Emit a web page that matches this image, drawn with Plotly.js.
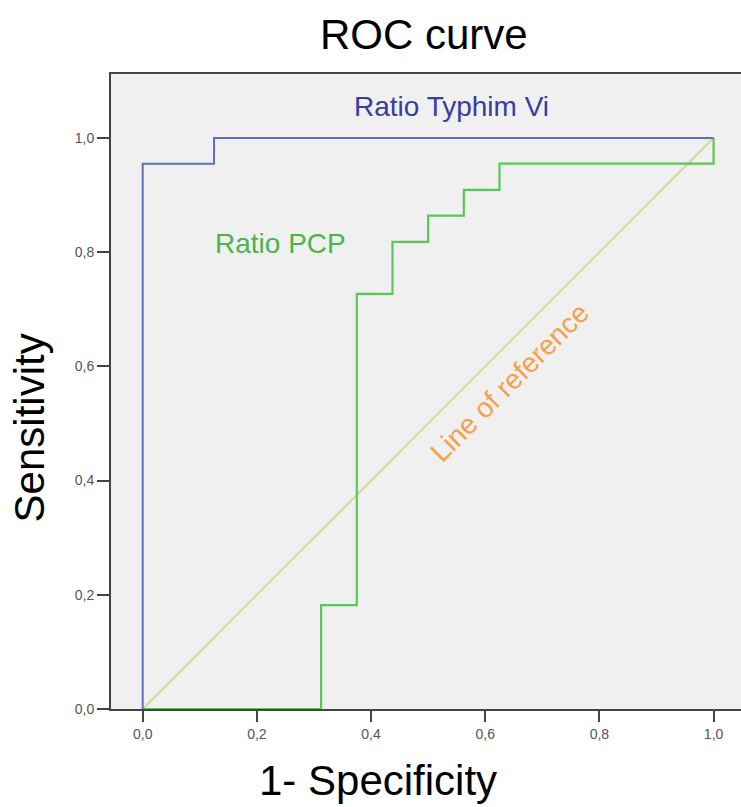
<!DOCTYPE html>
<html>
<head>
<meta charset="utf-8">
<script src="https://cdn.plot.ly/plotly-3.0.1.min.js"></script>
<style>html,body{margin:0;padding:0;background:#fff;}</style>
</head>
<body>
<div id="chart" style="width:741px;height:807px;"></div>
<script>
// 1 - Specificity (false positive rate) and Sensitivity for each curve
const typhimFPR = [0, 0, 0.125, 1];
const typhimTPR = [0, 0.955, 1, 1];
const pcpFPR = [0, 0.3125, 0.375, 0.4375, 0.5, 0.5625, 0.625, 1];
const pcpTPR = [0, 0.182, 0.727, 0.818, 0.864, 0.909, 0.955, 1];
const refX = [0, 1];
const refY = [0, 1];
const tickVals = [0, 0.2, 0.4, 0.6, 0.8, 1.0];

const FONT = 'Liberation Sans, Arial, Helvetica, sans-serif';

const traces = [
  {x: refX, y: refY, mode: 'lines', name: 'Line of reference',
   line: {color: '#d9d5a0', width: 2}, hoverinfo: 'skip'},
  {x: pcpFPR, y: pcpTPR, mode: 'lines', name: 'Ratio PCP',
   line: {color: '#5cc65c', width: 2.2, shape: 'hv'}},
  {x: typhimFPR, y: typhimTPR, mode: 'lines', name: 'Ratio Typhim Vi',
   line: {color: '#5a6ec4', width: 2, shape: 'hv'}}
];

const axisFont = {family: FONT, size: 14, color: '#555'};

const layout = {
  width: 741, height: 807,
  margin: {l: 111, r: 0, t: 74, b: 98},
  paper_bgcolor: '#ffffff',
  plot_bgcolor: '#f0f0f0',
  showlegend: false,
  separators: ',.',
  title: {text: 'ROC curve', x: 0.572, xanchor: 'center', y: 0.957, yanchor: 'middle',
          font: {family: FONT, size: 42, color: '#000'}},
  xaxis: {
    range: [-0.0555, 1.048], tickvals: tickVals, tickformat: '.1f',
    showgrid: false, zeroline: false, showline: true, mirror: true,
    linecolor: '#444', linewidth: 2, ticks: 'outside', ticklen: 11, tickwidth: 2,
    tickcolor: '#444', tickfont: axisFont
  },
  yaxis: {
    range: [0, 1.112], tickvals: tickVals, tickformat: '.1f',
    showgrid: false, zeroline: false, showline: true,
    linecolor: '#444', linewidth: 2, ticks: 'outside', ticklen: 12, tickwidth: 2,
    tickcolor: '#444', tickfont: axisFont
  },
  annotations: [
    {text: '1- Specificity', x: 0.424, y: -0.113, xref: 'paper', yref: 'paper',
     xanchor: 'center', yanchor: 'middle', showarrow: false,
     font: {family: FONT, size: 42, color: '#000'}},
    {text: 'Sensitivity', x: -0.129, y: 0.443, xref: 'paper', yref: 'paper',
     xanchor: 'center', yanchor: 'middle', showarrow: false, textangle: -90,
     font: {family: FONT, size: 42, color: '#000'}},
    {text: 'Ratio Typhim Vi', x: 0.541, y: 1.055, xref: 'x', yref: 'y', showarrow: false,
     font: {family: FONT, size: 28, color: '#3b3ba3'}},
    {text: 'Ratio PCP', x: 0.242, y: 0.815, xref: 'x', yref: 'y', showarrow: false,
     font: {family: FONT, size: 28, color: '#4cb44c'}},
    {text: 'Line of reference', x: 0.643, y: 0.571, xref: 'x', yref: 'y', showarrow: false,
     textangle: -45,
     font: {family: FONT, size: 28, color: '#f5a050'}}
  ]
};

Plotly.newPlot('chart', traces, layout, {displayModeBar: false, staticPlot: true});
</script>
</body>
</html>
